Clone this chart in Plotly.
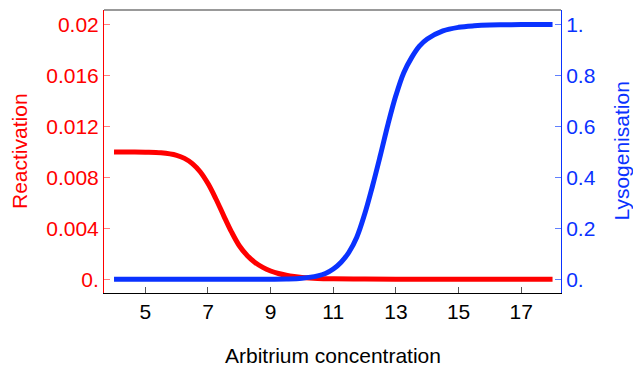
import plotly.graph_objects as go

# Arbitrium concentration (x) and Reactivation (left axis)
x_red = [4, 4.5, 5, 5.5, 6, 6.25, 6.5, 6.75, 7, 7.25, 7.5, 7.75, 8, 8.25, 8.5, 8.75, 9, 9.25, 9.5,
         9.75, 10, 10.5, 11, 12, 13, 14, 15, 16, 17, 18]
reactivation = [0.0100, 0.00999, 0.00998, 0.00993, 0.00973, 0.00949, 0.00908, 0.00844, 0.00751,
                0.00632, 0.00500, 0.00372, 0.00263, 0.00187, 0.00132, 0.00093, 0.00065, 0.00045,
                0.00031, 0.00021, 0.00014, 0.00006, 0.00003, 0.00001, 0.0, 0.0, 0.0, 0.0, 0.0, 0.0]

# Arbitrium concentration (x) and Lysogenisation (right axis)
x_blue = [4, 5, 6, 7, 8, 9, 9.5, 10, 10.5, 10.75, 11, 11.25, 11.5, 11.75, 12, 12.25, 12.5, 12.75,
          13, 13.25, 13.5, 13.75, 14, 14.5, 15, 15.5, 16, 16.5, 17, 17.5, 18]
lysogenisation = [0.0, 0.0, 0.0, 0.0, 0.0, 0.0003, 0.001, 0.004, 0.013, 0.0225, 0.040, 0.067, 0.106,
                  0.165, 0.255, 0.365, 0.485, 0.610, 0.722, 0.811, 0.870, 0.915, 0.943, 0.975,
                  0.989, 0.995, 0.998, 0.999, 1.0, 1.0, 1.0]

x_ticks = [5, 7, 9, 11, 13, 15, 17]
left_ticks = [0, 0.004, 0.008, 0.012, 0.016, 0.02]
left_ticktext = ["0.", "0.004", "0.008", "0.012", "0.016", "0.02"]
right_ticks = [0, 0.2, 0.4, 0.6, 0.8, 1.0]
right_ticktext = ["0.", "0.2", "0.4", "0.6", "0.8", "1."]

RED = "#ff0000"
BLUE = "#0a32ff"
FONT = "Liberation Sans, Arial, sans-serif"
L, R, T, B = 104, 72, 10, 74

fig = go.Figure()
fig.add_trace(go.Scatter(x=x_blue, y=lysogenisation, mode="lines", yaxis="y2",
                         line=dict(color=BLUE, width=5, shape="spline", smoothing=1.0),
                         showlegend=False, hoverinfo="skip"))
fig.add_trace(go.Scatter(x=x_red, y=reactivation, mode="lines", yaxis="y",
                         line=dict(color=RED, width=5, shape="spline", smoothing=1.0),
                         showlegend=False, hoverinfo="skip"))

fig.update_layout(
    width=633, height=367,
    margin=dict(l=L, r=R, t=T, b=B, autoexpand=False),
    paper_bgcolor="white", plot_bgcolor="white",
    font=dict(family=FONT, size=20),
    xaxis=dict(range=[3.68, 18.27], tickvals=x_ticks, ticktext=[str(t) for t in x_ticks],
               ticks="inside", ticklen=6, tickcolor="#555", showgrid=False, zeroline=False,
               showline=True, linecolor="black", linewidth=1, automargin=False,
               tickfont=dict(color="black", size=21, family=FONT)),
    yaxis=dict(range=[-0.00108, 0.02114], tickvals=left_ticks, ticktext=left_ticktext,
               ticks="inside", ticklen=6, tickcolor="#ff8080", showgrid=False, zeroline=False,
               showline=True, linecolor=RED, linewidth=1, automargin=False,
               tickfont=dict(color=RED, size=21, family=FONT)),
    yaxis2=dict(range=[-0.054, 1.057], tickvals=right_ticks, ticktext=right_ticktext,
                overlaying="y", side="right",
                ticks="inside", ticklen=6, tickcolor="#6080ff", showgrid=False, zeroline=False,
                showline=True, linecolor=BLUE, linewidth=1, automargin=False,
                tickfont=dict(color=BLUE, size=21, family=FONT)),
    shapes=[dict(type="line", xref="paper", yref="paper", x0=0, x1=1, y0=1, y1=1,
                 line=dict(color="#777777", width=1.5))],
    annotations=[
        dict(text="Arbitrium concentration", xref="paper", yref="paper", x=0.5, y=0,
             xanchor="center", yanchor="middle", yshift=-62, showarrow=False,
             font=dict(color="black", size=21, family=FONT)),
        dict(text="Reactivation", xref="paper", yref="paper", x=0, y=0.5, textangle=-90,
             xanchor="center", yanchor="middle", xshift=19.5 - L, showarrow=False,
             font=dict(color=RED, size=21, family=FONT)),
        dict(text="Lysogenisation", xref="paper", yref="paper", x=1, y=0.5, textangle=-90,
             xanchor="center", yanchor="middle", xshift=621 - (633 - R), showarrow=False,
             font=dict(color=BLUE, size=21, family=FONT)),
    ],
)

fig.write_html("out.html", config={"displayModeBar": False},
               post_script="document.body.style.margin='0';document.body.style.padding='0';"
                           "document.body.style.overflow='hidden';")
